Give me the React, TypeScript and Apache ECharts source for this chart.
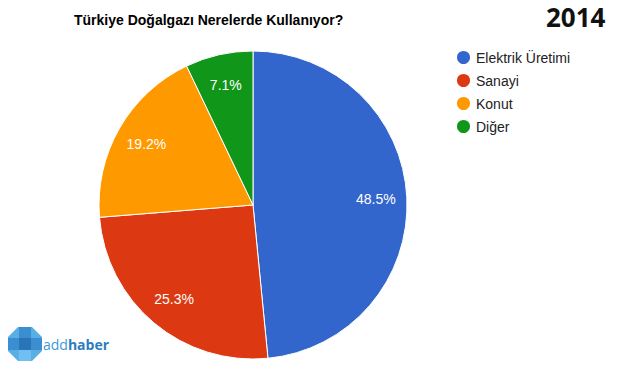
import React, { useEffect, useRef } from "react";
import * as echarts from "echarts";

const categories = ["Elektrik Üretimi", "Sanayi", "Konut", "Diğer"];
const values = [48.5, 25.3, 19.2, 7.1];
const colors = ["#3366cc", "#dc3912", "#ff9900", "#109618"];
const titleText = "Türkiye Doğalgazı Nerelerde Kullanıyor?";
const yearText = "2014";

export default function App() {
  const ref = useRef<HTMLDivElement>(null);
  useEffect(() => {
    if (!ref.current) return;
    const chart = echarts.init(ref.current, null, { renderer: "svg" });
    const data = categories.map((name, i) => ({ name, value: values[i] }));
    const font = "Arial, 'Liberation Sans', sans-serif";
    chart.setOption({
      animation: false,
      backgroundColor: "#ffffff",
      color: colors,
      legend: {
        orient: "vertical",
        left: 455,
        top: 49,
        padding: 0,
        icon: "circle",
        itemWidth: 15,
        itemHeight: 15,
        itemGap: 6,
        textStyle: { fontFamily: font, fontSize: 14, color: "#222222" },
        data: categories,
      },
      series: [
        {
          type: "pie",
          center: [253, 205],
          radius: [0, 154],
          startAngle: 90,
          clockwise: true,
          silent: true,
          label: { show: false },
          labelLine: { show: false },
          itemStyle: { borderColor: "#ffffff", borderWidth: 1 },
          data,
        },
        {
          type: "pie",
          center: [253, 205],
          radius: [86, 154],
          startAngle: 90,
          clockwise: true,
          silent: true,
          legendHoverLink: false,
          itemStyle: { color: "rgba(0,0,0,0)", borderWidth: 0 },
          label: {
            show: true,
            position: "inside",
            formatter: (p: any) => p.value.toFixed(1) + "%",
            color: "#ffffff",
            fontFamily: font,
            fontSize: 14,
          },
          labelLine: { show: false },
          data: categories.map((name, i) => ({ name: name + " ", value: values[i] })),
        },
      ],
      graphic: [
        {
          type: "text",
          left: 74,
          top: 13,
          style: {
            text: titleText,
            font: "bold 14px Arial, 'Liberation Sans', sans-serif",
            fill: "#000000",
          },
        },
        {
          type: "text",
          left: 546,
          top: 4,
          style: {
            text: yearText,
            font: "bold 26px 'Open Sans', sans-serif",
            fill: "#111111",
          },
        },
        {
          type: "group",
          left: 8,
          top: 327,
          children: [
            {
              type: "polygon",
              shape: { points: [[10, 0], [24, 0], [34, 10], [34, 24], [24, 34], [10, 34], [0, 24], [0, 10]] },
              style: { fill: "#5aaee6" },
            },
            { type: "rect", shape: { x: 11, y: 0, width: 12, height: 34 }, style: { fill: "#3b8fd0" } },
            { type: "rect", shape: { x: 0, y: 11, width: 34, height: 12 }, style: { fill: "#3b8fd0" } },
            { type: "rect", shape: { x: 11, y: 11, width: 12, height: 12 }, style: { fill: "#2a74b8" } },
            { type: "rect", shape: { x: 11, y: 23, width: 12, height: 11 }, style: { fill: "#6fc0f0" } },
          ],
        },
        {
          type: "text",
          left: 43,
          top: 337,
          style: {
            text: "{a|add}{b|haber}",
            rich: {
              a: { font: "14px 'Open Sans', sans-serif", fill: "#3c9ad8" },
              b: { font: "bold 14px 'Open Sans', sans-serif", fill: "#2e7cc0" },
            },
          },
        },
      ],
    });
    return () => chart.dispose();
  }, []);
  return <div ref={ref} style={{ width: 620, height: 374, position: "absolute", left: 0, top: 0 }} />;
}
